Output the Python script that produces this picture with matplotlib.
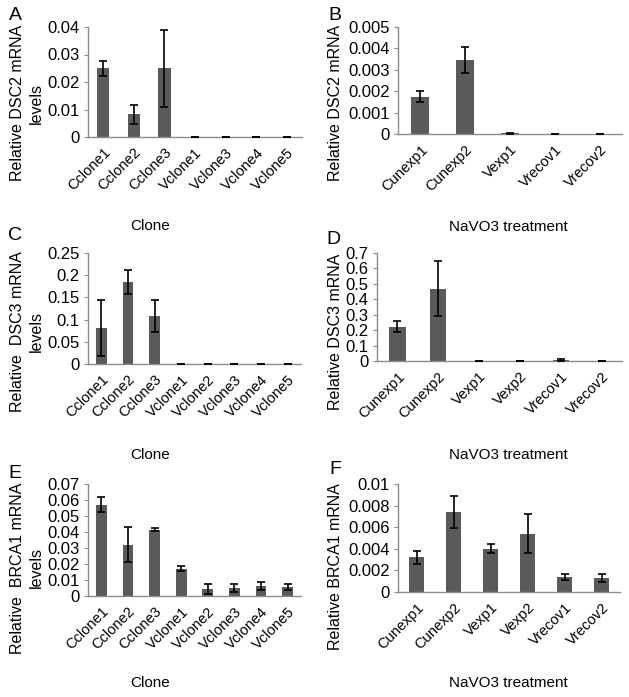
import numpy as np
import matplotlib.pyplot as plt

plt.rcParams['font.family'] = ['Liberation Sans', 'DejaVu Sans']

clones_a = ['Cclone1', 'Cclone2', 'Cclone3', 'Vclone1', 'Vclone3', 'Vclone4', 'Vclone5']
dsc2_clone = [0.025, 0.0083, 0.025, 0.0001, 0.0001, 0.0001, 0.0001]
dsc2_clone_err = [0.0027, 0.0034, 0.014, 0, 0, 0, 0]

treat_b = ['Cunexp1', 'Cunexp2', 'Vexp1', 'Vrecov1', 'Vrecov2']
dsc2_treat = [0.00175, 0.00345, 0.00003, 0, 0]
dsc2_treat_err = [0.00027, 0.0006, 0.00001, 0, 0]

clones = ['Cclone1', 'Cclone2', 'Cclone3', 'Vclone1', 'Vclone2', 'Vclone3', 'Vclone4', 'Vclone5']
dsc3_clone = [0.081, 0.185, 0.109, 0.001, 0.001, 0.001, 0.001, 0.001]
dsc3_clone_err = [0.063, 0.027, 0.036, 0, 0, 0, 0, 0]

treat = ['Cunexp1', 'Cunexp2', 'Vexp1', 'Vexp2', 'Vrecov1', 'Vrecov2']
dsc3_treat = [0.222, 0.467, 0.003, 0.003, 0.007, 0.003]
dsc3_treat_err = [0.037, 0.178, 0, 0, 0.004, 0]

brca1_clone = [0.057, 0.032, 0.0415, 0.017, 0.0042, 0.0047, 0.0063, 0.0058]
brca1_clone_err = [0.0048, 0.011, 0.001, 0.0015, 0.003, 0.0025, 0.0025, 0.002]

brca1_treat = [0.0032, 0.0074, 0.0040, 0.0054, 0.0014, 0.0013]
brca1_treat_err = [0.0006, 0.0015, 0.0004, 0.0018, 0.0003, 0.0004]

W, H = 629, 697
fig = plt.figure(figsize=(W / 100, H / 100), dpi=100)

bar_col = '#5a5a5a'
axis_col = '#8c8c8c'


def panel(box, cats, vals, errs, ymax, ystep, letter, lpos, ylab, ylpos, xlab, xlpos):
    l, r, t, b = box
    ax = fig.add_axes([l / W, 1 - b / H, (r - l) / W, (b - t) / H])
    x = np.arange(len(cats))
    ax.bar(x, vals, width=0.4, color=bar_col, zorder=2)
    ax.errorbar(x, vals, yerr=errs, fmt='none', ecolor='black', elinewidth=1.2,
                capsize=3, capthick=1.2, zorder=3)
    ax.set_xlim(-0.5, len(cats) - 0.5)
    ax.set_ylim(0, ymax)
    ticks = np.arange(0, ymax + ystep / 2, ystep)
    ax.set_yticks(ticks)
    ax.set_yticklabels([f'{v:g}' for v in np.round(ticks, 4)], fontsize=12)
    ax.set_xticks(x)
    ax.set_xticklabels(cats, rotation=45, ha='right', rotation_mode='anchor', fontsize=10.5)
    for s in ['top', 'right']:
        ax.spines[s].set_visible(False)
    for s in ['left', 'bottom']:
        ax.spines[s].set_color(axis_col)
        ax.spines[s].set_linewidth(1.0)
    ax.tick_params(axis='y', color=axis_col, length=3, pad=3)
    ax.tick_params(axis='x', length=0, pad=6)
    fig.text(lpos[0] / W, 1 - lpos[1] / H, letter, fontsize=14, ha='center', va='center')
    fig.text(ylpos[0] / W, 1 - ylpos[1] / H, ylab, fontsize=11.5, rotation=90,
             ha='center', va='center', multialignment='center', linespacing=1.3)
    fig.text(xlpos[0] / W, 1 - xlpos[1] / H, xlab, fontsize=11, ha='center', va='center')
    return ax


panel((88, 302, 27, 137), clones_a, dsc2_clone, dsc2_clone_err, 0.04, 0.01, 'A', (15, 15),
      'Relative DSC2 mRNA\nlevels', (27, 103), 'Clone', (150, 226))
panel((398, 622, 27, 134), treat_b, dsc2_treat, dsc2_treat_err, 0.005, 0.001, 'B', (335, 15),
      'Relative DSC2 mRNA', (335, 103), 'NaVO3 treatment', (508, 227))
panel((88, 301, 253, 364), clones, dsc3_clone, dsc3_clone_err, 0.25, 0.05, 'C', (15, 235),
      'Relative  DSC3 mRNA\nlevels', (27, 332), 'Clone', (150, 455))
panel((377, 622, 253, 361), treat, dsc3_treat, dsc3_treat_err, 0.7, 0.1, 'D', (333, 240),
      'Relative DSC3 mRNA', (335, 332), 'NaVO3 treatment', (508, 455))
panel((88, 301, 484, 596), clones, brca1_clone, brca1_clone_err, 0.07, 0.01, 'E', (15, 473),
      'Relative  BRCA1 mRNA\nlevels', (27, 568), 'Clone', (150, 683))
panel((398, 620, 484, 592), treat, brca1_treat, brca1_treat_err, 0.01, 0.002, 'F', (335, 470),
      'Relative BRCA1 mRNA', (335, 567), 'NaVO3 treatment', (508, 683))

fig.savefig('out.png', dpi=100)
